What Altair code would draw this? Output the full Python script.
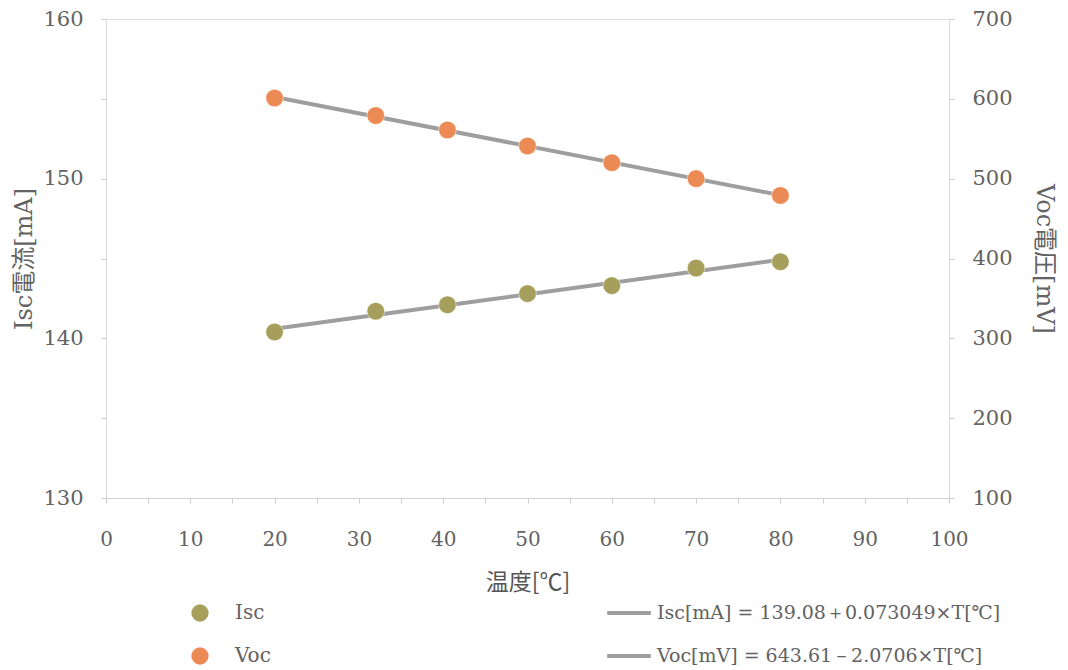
import altair as alt
import pandas as pd

temps = [20, 32, 40.5, 50, 60, 70, 80]
isc_values = [140.4, 141.7, 142.1, 142.8, 143.3, 144.4, 144.8]
voc_values = [601, 579, 561, 541, 520, 500, 479]
series_names = ["Isc", "Voc"]
fit_labels = ["Isc[mA] = 139.08＋0.073049×T[℃]", "Voc[mV] = 643.61－2.0706×T[℃]"]
point_colors = ["#a69f5c", "#ec8a55"]
x_ticks = list(range(0, 101, 5))
left_ticks = list(range(130, 161, 5))
right_ticks = list(range(100, 701, 100))

rows = []
for t, v in zip(temps, isc_values):
    rows.append({"T": t, "value": v, "series": series_names[0], "fit": fit_labels[0]})
for t, v in zip(temps, voc_values):
    rows.append({"T": t, "value": v, "series": series_names[1], "fit": fit_labels[1]})
df = pd.DataFrame(rows)

SERIF = "DejaVu Serif, Noto Sans CJK JP"
TXT = "#626262"

x_enc = alt.X("T:Q", scale=alt.Scale(domain=[0, 100], nice=False),
              axis=alt.Axis(values=x_ticks, labelExpr="datum.value % 10 == 0 ? datum.label : ''",
                            title="温度[℃]", titleFont="Noto Sans CJK JP", titleFontSize=23,
                            titleFontWeight="normal", titleColor="#555555", titlePadding=22,
                            labelFont="DejaVu Serif", labelFontSize=20, labelColor=TXT,
                            labelPadding=26, labelFlush=False, tickSize=5, tickColor="#cccccc",
                            domainColor="#d0d0d0", grid=False))

fill_scale = alt.Scale(domain=series_names, range=point_colors)
stroke_scale = alt.Scale(domain=fit_labels, range=["#9e9e9e", "#9e9e9e"])

fill_legend = alt.Legend(title=None, orient="none", legendX=84, legendY=584, padding=0,
                         symbolType="circle", symbolSize=300, symbolStrokeWidth=0,
                         labelFont="DejaVu Serif", labelFontSize=20, labelColor=TXT,
                         labelOffset=25, rowPadding=23, labelLimit=0)
stroke_legend = alt.Legend(title=None, orient="none", legendX=499, legendY=570, padding=0,
                           symbolType="stroke", symbolSize=1900, symbolStrokeWidth=4,
                           labelFont="DejaVu Serif", labelFontSize=19, labelColor=TXT,
                           labelOffset=4, rowPadding=9, labelLimit=0)


def panel(name, domain, ticks, orient, title, label_expr, title_angle, title_pad):
    base = alt.Chart(df).transform_filter(alt.datum.series == name)
    y_enc = alt.Y("value:Q", scale=alt.Scale(domain=domain, nice=False, zero=False),
                  axis=alt.Axis(orient=orient, values=ticks, labelExpr=label_expr, title=title,
                                titleFont=SERIF, titleFontSize=24, titleFontWeight="normal",
                                titleColor="#626262", titleAngle=title_angle,
                                labelFont="DejaVu Serif", labelFontSize=21, labelColor=TXT,
                                labelPadding=18, tickSize=5, tickColor="#cccccc",
                                domainColor="#d8dcd8", grid=False, titlePadding=title_pad))
    line = base.transform_regression("T", "value", groupby=["series", "fit"], extent=[20, 80]).mark_line(
        strokeWidth=4).encode(
        x=x_enc, y=y_enc,
        stroke=alt.Stroke("fit:N", scale=stroke_scale, legend=stroke_legend))
    pts = base.mark_point(filled=True, size=310, opacity=1, stroke="#ffffff", strokeOpacity=0.5,
                          strokeWidth=1).encode(
        x=x_enc, y=y_enc,
        fill=alt.Fill("series:N", scale=fill_scale, legend=fill_legend))
    return alt.layer(line, pts)


left = panel("Isc", [130, 160], left_ticks, "left", "Isc電流[mA]",
             "datum.value % 10 == 0 ? datum.label : ''", -90, 6)
right = panel("Voc", [100, 700], right_ticks, "right", "Voc電圧[mV]",
              "datum.label", 90, 19)

chart = alt.layer(left, right).resolve_scale(y="independent").properties(
    width=843, height=479,
    autosize=alt.AutoSizeParams(type="none"),
    padding={"left": 98, "top": 11, "right": 110, "bottom": 172},
    background="#ffffff",
).configure_view(stroke="#dfe3df", strokeWidth=1)

chart.save("out.html", embed_options={"renderer": "svg", "actions": False})
